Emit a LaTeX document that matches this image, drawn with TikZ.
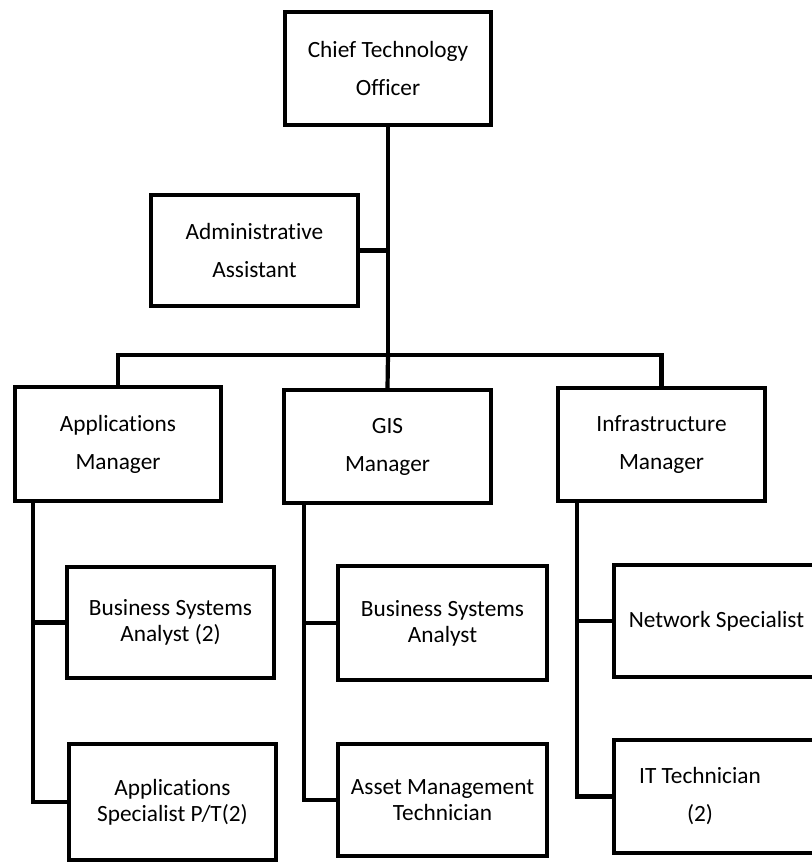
\documentclass[tikz,border=0pt]{standalone}
\usepackage{fontspec}
\setmainfont{Carlito}[Ligatures=NoCommon]
\begin{document}
\begin{tikzpicture}[x=1pt,y=-1pt,
  box/.style={draw=black, line width=4.2pt, fill=white, inner sep=0pt, align=center,
    minimum width=207pt, minimum height=113pt},
  wide/.style={font=\fontsize{23.3}{38}\selectfont},
  tight/.style={font=\fontsize{23.3}{26}\selectfont},
  conn/.style={draw=black, line width=4.2pt}]
\useasboundingbox (0,0) rectangle (812,863);
\clip (0,0) rectangle (812,863);
% boxes
\node[box, wide, minimum width=206pt] (cto) at (388,68.5) {Chief Technology\\Officer};
\node[box, wide, minimum height=111pt] (admin) at (254.5,250.5) {Administrative\\Assistant};
\node[box, wide, minimum width=206pt, minimum height=114pt] (apps) at (118,444) {Applications\\Manager};
\node[box, wide] (gis) at (387.5,446.5) {GIS\\Manager};
\node[box, wide] (infra) at (661.5,444.5) {Infrastructure\\Manager};
\node[box, tight, minimum height=111pt] (bsa2) at (170.5,622.5) {Business Systems\\Analyst (2)};
\node[box, tight, minimum height=116pt] (appspec) at (172.5,802) {Applications\\Specialist P/T(2)};
\node[box, tight, minimum width=209pt, minimum height=114pt] (bsa) at (442.5,623) {Business Systems\\Analyst};
\node[box, tight, minimum width=209pt, minimum height=112pt] (asset) at (442.5,800) {Asset Management\\Technician};
\node[box, wide, minimum width=208pt, minimum height=112pt] (net) at (718,621) {\hspace*{-3pt}Network Specialist};
\node[box, wide, minimum width=208pt,
  label={[name=itlbl, xshift=-18pt, align=center, font=\fontsize{23.3}{38}\selectfont]center:IT Technician\\(2)}] (it) at (718,796.5) {};
% coordinates
\coordinate (bar) at (388,355);
\coordinate (appsT) at (33,503);
\coordinate (gisT) at (304,505);
\coordinate (infraT) at (577,503);
% connectors
\draw[conn] (cto.south) -- (bar);
\draw[conn] (admin.east) -- (admin.east -| bar);
\draw[conn] (apps.north) |- (bar) -| (infra.north);
\draw[conn] (bar) -- (gis.north);
\draw[conn] (appsT) |- (appspec.west);
\draw[conn] (bsa2.west) -- (bsa2.west -| appsT);
\draw[conn] (gisT) |- (asset.west);
\draw[conn] (bsa.west) -- (bsa.west -| gisT);
\draw[conn] (infraT) |- (it.west);
\draw[conn] (net.west) -- (net.west -| infraT);
\end{tikzpicture}
\end{document}
